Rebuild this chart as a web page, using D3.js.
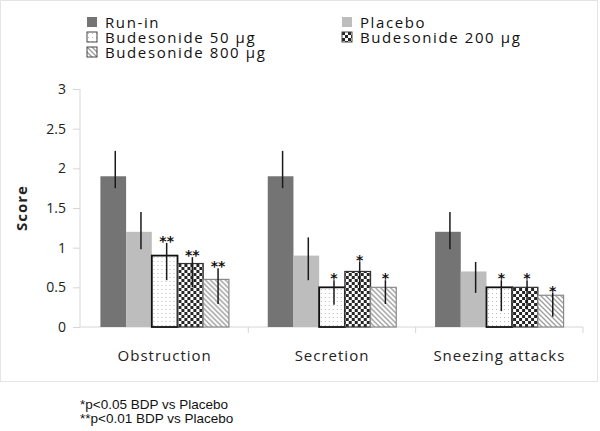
<!DOCTYPE html>
<html><head><meta charset="utf-8">
<script src="https://cdn.jsdelivr.net/npm/d3@7/dist/d3.min.js"></script>
<style>body{margin:0;background:#fff}svg{display:block}</style>
</head><body>
<svg id="c" width="600" height="431"></svg>
<script>
const categories = ["Obstruction", "Secretion", "Sneezing attacks"];
const seriesNames = ["Run-in", "Placebo", "Budesonide 50 \u00b5g", "Budesonide 200 \u00b5g", "Budesonide 800 \u00b5g"];
const runIn   = [1.9, 1.9, 1.2];
const placebo = [1.2, 0.9, 0.7];
const bud50   = [0.9, 0.5, 0.5];
const bud200  = [0.8, 0.7, 0.5];
const bud800  = [0.6, 0.5, 0.4];
const runInHi   = [2.22, 2.22, 1.45], runInLo   = [1.75, 1.75, 0.98];
const placeboHi = [1.45, 1.13, 0.82], placeboLo = [0.98, 0.59, 0.43];
const bud50Hi   = [1.06, 0.59, 0.59], bud50Lo   = [0.59, 0.28, 0.20];
const bud200Hi  = [0.88, 0.82, 0.59], bud200Lo  = [0.50, 0.44, 0.22];
const bud800Hi  = [0.74, 0.59, 0.43], bud800Lo  = [0.29, 0.29, 0.13];
const runInStars = ["", "", ""], placeboStars = ["", "", ""];
const bud50Stars = ["**", "*", "*"], bud200Stars = ["**", "*", "*"], bud800Stars = ["**", "*", "*"];
const yTicks = [0, 0.5, 1, 1.5, 2, 2.5, 3];
const yTickLabels = ["0", "0.5", "1", "1.5", "2", "2.5", "3"];
const yLabel = "Score";
const footnotes = ["*p<0.05 BDP vs Placebo", "**p<0.01 BDP vs Placebo"];

const seriesVals = [runIn, placebo, bud50, bud200, bud800];
const seriesHi = [runInHi, placeboHi, bud50Hi, bud200Hi, bud800Hi];
const seriesLo = [runInLo, placeboLo, bud50Lo, bud200Lo, bud800Lo];
const seriesStars = [runInStars, placeboStars, bud50Stars, bud200Stars, bud800Stars];

const svg = d3.select("#c");
const defs = svg.append("defs");
const pDots = defs.append("pattern").attr("id","dots").attr("patternUnits","userSpaceOnUse").attr("width",4).attr("height",4);
pDots.append("rect").attr("width",4).attr("height",4).attr("fill","#fff");
pDots.append("rect").attr("x",1).attr("y",1).attr("width",1).attr("height",1).attr("fill","#b8b8b8");
const pChk = defs.append("pattern").attr("id","check").attr("patternUnits","userSpaceOnUse").attr("width",6).attr("height",6);
pChk.append("rect").attr("width",6).attr("height",6).attr("fill","#fff");
pChk.append("rect").attr("width",3).attr("height",3).attr("fill","#262626");
pChk.append("rect").attr("x",3).attr("y",3).attr("width",3).attr("height",3).attr("fill","#262626");
const pDiag = defs.append("pattern").attr("id","diag").attr("patternUnits","userSpaceOnUse").attr("width",5).attr("height",5);
pDiag.append("rect").attr("width",5).attr("height",5).attr("fill","#fff");
pDiag.append("path").attr("d","M-1,-1 L6,6 M-1,4 L1,6 M4,-1 L6,1").attr("stroke","#9a9a9a").attr("stroke-width",1.3);

const fills = ["#747474", "#bdbdbd", "url(#dots)", "url(#check)", "url(#diag)"];
const strokes = ["none", "none", "#111", "#333", "#8a8a8a"];
const strokeW = [0, 0, 1.8, 1.2, 1.2];

svg.append("rect").attr("x",0.5).attr("y",0.5).attr("width",597).attr("height",381)
  .attr("fill","none").attr("stroke","#e4e4e4");

const x0 = d3.scaleBand().domain(categories).range([81, 583]).paddingInner(0.232).paddingOuter(0.116);
const x1 = d3.scaleBand().domain(d3.range(seriesNames.length)).range([0, x0.bandwidth()]);
const y = d3.scaleLinear().domain([0, 3]).range([327, 89]);

const yAxis = svg.append("g").attr("transform","translate(80,0)")
  .call(d3.axisLeft(y).tickValues(yTicks).tickFormat((d,i)=>yTickLabels[i]).tickSize(7).tickPadding(7));
yAxis.select(".domain").attr("stroke","#d6d6d6").attr("d","M0,89V327");
yAxis.selectAll(".tick line").attr("stroke","#d6d6d6");
yAxis.selectAll(".tick text").attr("font-family","'Open Sans', sans-serif").attr("font-size",14).attr("fill","#222");

svg.append("line").attr("x1",80).attr("x2",583).attr("y1",y(0)).attr("y2",y(0)).attr("stroke","#d6d6d6");
const bounds = [...categories.slice(1).map(c => x0(c) - x0.step()*x0.paddingInner()/2), x0.range()[1]];
svg.selectAll(".bt").data(bounds).enter().append("line")
  .attr("x1",d=>d).attr("x2",d=>d).attr("y1",y(0)).attr("y2",y(0)+6).attr("stroke","#d6d6d6");

svg.append("g").selectAll("text").data(categories).enter().append("text")
  .attr("x", d => x0(d) + x0.bandwidth()/2).attr("y", 361)
  .attr("text-anchor","middle").attr("font-family","'Open Sans', sans-serif").attr("font-size",15)
  .attr("letter-spacing","1px").attr("fill","#222").text(d => d);

svg.append("text").attr("transform","translate(27,208) rotate(-90)").attr("text-anchor","middle")
  .attr("font-family","'Open Sans', sans-serif").attr("font-weight","bold").attr("font-size",15)
  .attr("letter-spacing","1px").attr("fill","#222").text(yLabel);

const groups = svg.append("g").selectAll("g").data(categories).enter().append("g")
  .attr("transform", d => `translate(${x0(d)},0)`);
seriesNames.forEach((s, si) => {
  groups.append("rect")
    .attr("x", x1(si)).attr("width", x1.bandwidth())
    .attr("y", (d,ci) => y(seriesVals[si][ci]))
    .attr("height", (d,ci) => y(0) - y(seriesVals[si][ci]))
    .attr("fill", fills[si]).attr("stroke", strokes[si]).attr("stroke-width", strokeW[si]);
});
seriesNames.forEach((s, si) => {
  groups.append("line")
    .attr("x1", x1(si) + x1.bandwidth()/2 + 2).attr("x2", x1(si) + x1.bandwidth()/2 + 2)
    .attr("y1", (d,ci) => y(seriesHi[si][ci])).attr("y2", (d,ci) => y(seriesLo[si][ci]))
    .attr("stroke", "#1a1a1a").attr("stroke-width", 1.5);
  groups.append("text")
    .attr("x", x1(si) + x1.bandwidth()/2 + 2).attr("y", (d,ci) => y(seriesHi[si][ci]) + 3)
    .attr("text-anchor","middle").attr("font-family","'DejaVu Sans', sans-serif").attr("font-size",14)
    .attr("font-weight","bold").attr("fill","#111").text((d,ci) => seriesStars[si][ci]);
});

const legPos = [[87,17],[342,17],[87,32],[342,32],[87,47]];
const leg = svg.append("g").selectAll("g").data(seriesNames).enter().append("g")
  .attr("transform",(d,i)=>`translate(${legPos[i][0]},${legPos[i][1]})`);
leg.append("rect").attr("width",10).attr("height",10)
  .attr("fill",(d,i)=>fills[i]).attr("stroke",(d,i)=>i<2?"none":"#444").attr("stroke-width",1);
leg.append("text").attr("x",18).attr("y",11).attr("font-family","'Open Sans', sans-serif")
  .attr("font-size",15).attr("letter-spacing","1.6px").attr("fill","#111").text(d=>d);

svg.append("g").selectAll("text").data(footnotes).enter().append("text")
  .attr("x",80).attr("y",(d,i)=>409+i*14).attr("font-family","'Liberation Sans', Arial, sans-serif")
  .attr("font-size",13.5).attr("fill","#111").text(d=>d);
</script>
</body></html>
